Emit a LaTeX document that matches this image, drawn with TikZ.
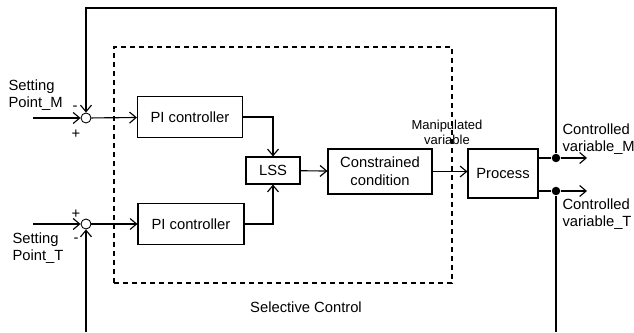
\documentclass[tikz,border=0pt]{standalone}
\usepackage{fontspec}
\setmainfont{Liberation Sans}
\usetikzlibrary{arrows.meta,positioning}

\begin{document}
\begin{tikzpicture}[
  font=\fontsize{8.4}{10}\selectfont,
  >={Straight Barb[length=1.3mm,width=2.2mm]},
  line width=0.65pt,
  blk/.style={draw,line width=0.65pt,align=center,inner sep=1pt},
  sumpt/.style={draw,circle,line width=0.5pt,fill=white,minimum size=0.2cm,inner sep=0pt},
  dotpt/.style={circle,fill=black,minimum size=0.17cm,inner sep=0pt},
  sig/.style={->},
  lbl/.style={align=left,anchor=west,inner sep=0pt},
  smalllbl/.style={font=\fontsize{7.4}{8.6}\selectfont,align=center,inner sep=0pt}
]
  \useasboundingbox (0,0) rectangle (12.68,6.64);

  % selective control frame
  \draw[line width=0.6pt,dash pattern=on 1mm off 0.8mm] (2.28,0.98) rectangle (9.04,5.70);
  \node (selc) at (6.12,0.50) {Selective Control};

  % blocks
  \node[sumpt] (sumM) at (1.72,4.28) {};
  \node[sumpt] (sumT) at (1.72,2.16) {};
  \node[blk,minimum width=2.10cm,minimum height=0.82cm] (piM) at (3.80,4.30) {PI controller};
  \node[blk,minimum width=2.12cm,minimum height=0.82cm] (piT) at (3.82,2.16) {PI controller};
  \node[blk,minimum width=1.08cm,minimum height=0.54cm] (lss) at (5.46,3.23) {LSS};
  \node[blk,minimum width=2.08cm,minimum height=0.90cm] (con) at (7.60,3.21)
    {Constrained\\condition};
  \node[blk,minimum width=1.40cm,minimum height=0.98cm] (proc) at (10.06,3.17) {Process};
  \node[dotpt] (dotM) at (11.12,3.48) {};
  \node[dotpt] (dotT) at (11.12,2.82) {};

  % free ends
  \coordinate (inM) at (0.66,4.28);
  \coordinate (inT) at (0.66,2.16);
  \coordinate (outM) at (11.74,3.48);
  \coordinate (outT) at (11.74,2.82);
  \coordinate (topR) at (11.12,6.48);
  \coordinate (topL) at (1.72,6.48);
  \coordinate (botR) at (11.12,0);
  \coordinate (botL) at (1.72,0);

  % labels
  \node[lbl] (spM) at (0.16,4.74) {Setting\\Point\_M};
  \node[lbl] (spT) at (0.24,1.68) {Setting\\Point\_T};
  \node[lbl] (cvM) at (11.24,3.86) {Controlled\\variable\_M};
  \node[lbl] (cvT) at (11.24,2.36) {Controlled\\variable\_T};
  \node[smalllbl] (mv) at (8.94,4.00) {Manipulated\\variable};
  \node (mM) at (1.50,4.48) {-};
  \node (pM) at (1.52,3.96) {+};
  \node (pT) at (1.52,2.36) {+};
  \node (mT) at (1.52,1.84) {-};

  % signal flow
  \draw[sig] (inM) -- (sumM);
  \draw[sig] (inT) -- (sumT);
  \draw[sig] (sumM) -- (piM);
  \draw[sig] (sumT) -- (piT);
  \draw[sig] (piM.east) -| (lss.north);
  \draw[sig] (piT.east) -| (lss.south);
  \draw[sig] (lss) -- (con);
  \draw[sig] (con.east) -- (con.east -| proc.west);
  \draw (proc.east |- dotM) -- (dotM);
  \draw (proc.east |- dotT) -- (dotT);
  \draw[sig] (dotM) -- (outM);
  \draw[sig] (dotT) -- (outT);

  % feedback
  \draw[sig] (dotM) -- (topR) -- (topL) -- (sumM);
  \draw (dotT) -- (botR);
  \draw[sig] (botL) -- (sumT);
\end{tikzpicture}
\end{document}
